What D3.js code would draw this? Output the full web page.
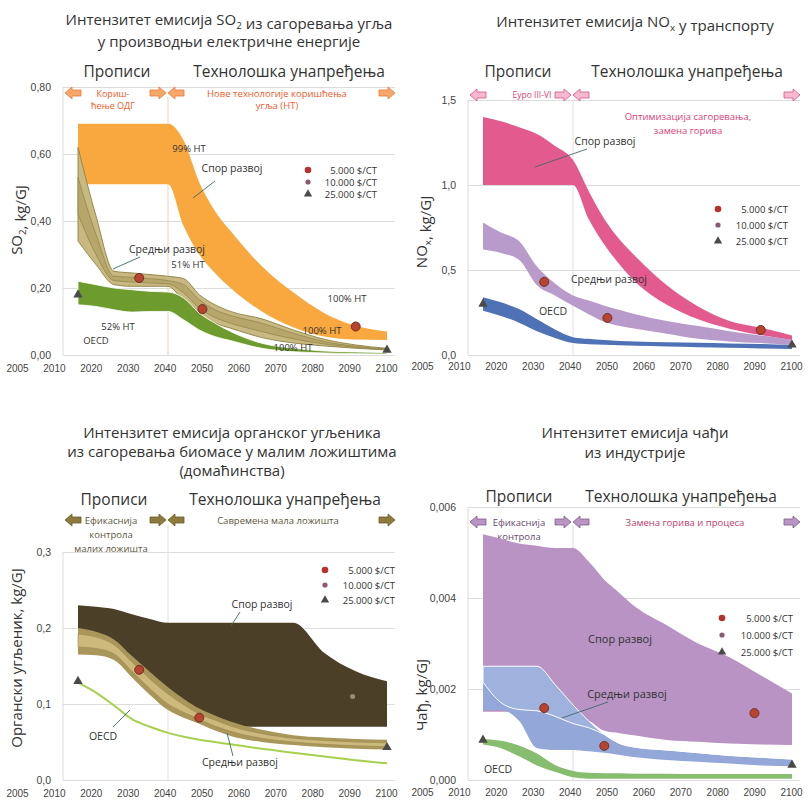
<!DOCTYPE html>
<html>
<head>
<meta charset="utf-8">
<title>Интензитет емисија</title>
<script src="https://d3js.org/d3.v7.min.js"></script>
<style>
  body { margin: 0; background: #fff; }
  svg { font-family: "Open Sans", "Noto Sans", sans-serif; }
  .grid line { stroke: #dcdcdc; }
  .grid text { fill: #444; font-size: 10.5px; }
  .xl text { fill: #444; font-size: 10px; }
  .lbl { fill: #333; }
</style>
</head>
<body>
<script>
// common year grid for all bands
var years = [2005, 2010, 2015, 2020, 2025, 2030, 2035, 2040, 2045, 2050, 2060, 2070, 2080, 2090, 2100];
var tickLabels = ['2005', '2010', '2020', '2030', '2040', '2050', '2060', '2070', '2080', '2090', '2100'];
var legendLabels = ['5.000 $/CT', '10.000 $/CT', '25.000 $/CT'];

// SO2, kg/GJ
var so2SlowHi = [.69, .69, .69, .69, .69, .69, .64, .515, .43, .37, .265, .187, .125, .087, .07];
var so2SlowLo = [.51, .51, .51, .51, .51, .51, .385, .30, .245, .20, .13, .083, .055, .046, .045];
var so2MedHi = [.62, .415, .25, .245, .24, .235, .228, .18, .15, .13, .108, .075, .047, .03, .02];
var so2MedLo = [.34, .27, .21, .205, .205, .205, .16, .118, .095, .08, .052, .036, .027, .02, .015];
var so2MedInHi = [.53, .36, .235, .232, .228, .222, .21, .165, .135, .118, .095, .065, .04, .026, .018];
var so2MedInLo = [.42, .30, .222, .218, .215, .212, .185, .14, .112, .095, .07, .048, .033, .023, .016];
var so2OecdHi = [.22, .21, .20, .195, .19, .188, .17, .125, .095, .07, .035, .02, .012, .009, .007];
var so2OecdLo = [.15, .145, .135, .128, .13, .13, .105, .075, .055, .043, .02, .01, .006, .004, .003];
var so2Dots = [[2022, .23], [2041, .137], [2090, .085]];
var so2Tri = [[2005, .18], [2100, .015]];

// NOx, kg/GJ
var noxSlowHi = [1.40, 1.375, 1.34, 1.30, 1.23, 1.147, .965, .80, .676, .58, .41, .285, .20, .16, .115];
var noxSlowLo = [1.0, 1.0, 1.0, 1.0, 1.0, 1.0, .80, .65, .53, .43, .295, .21, .155, .117, .088];
var noxMedHi = [.78, .72, .67, .52, .42, .35, .32, .29, .265, .24, .20, .17, .14, .115, .09];
var noxMedLo = [.62, .60, .56, .41, .35, .29, .24, .195, .17, .155, .125, .095, .08, .07, .06];
var noxOecdHi = [.34, .31, .27, .21, .15, .105, .095, .088, .083, .08, .075, .072, .068, .065, .06];
var noxOecdLo = [.26, .23, .19, .14, .10, .07, .063, .06, .057, .054, .05, .046, .042, .038, .035];
var noxDots = [[2022, .43], [2041, .218], [2090, .147]];
var noxTri = [[2005, .30], [2100, .06]];

// organic carbon, kg/GJ
var ocSlowHi = [.23, .228, .225, .218, .212, .207, .207, .207, .207, .207, .207, .207, .167, .143, .13];
var ocSlowLo = [.19, .185, .175, .15, .13, .11, .095, .085, .075, .07, .07, .07, .07, .07, .07];
var ocMedHi = [.20, .195, .185, .163, .142, .122, .107, .094, .085, .077, .066, .059, .056, .054, .053];
var ocMedLo = [.165, .164, .158, .135, .112, .092, .082, .074, .065, .058, .05, .046, .043, .041, .04];
var ocMedInHi = [.192, .188, .178, .155, .133, .113, .099, .087, .079, .071, .061, .055, .052, .05, .049];
var ocMedInLo = [.175, .173, .166, .143, .12, .10, .089, .08, .071, .064, .055, .05, .047, .045, .044];
var ocOecd = [.128, .115, .098, .08, .07, .062, .057, .053, .05, .047, .041, .036, .031, .026, .022];
var ocDots = [[2022, .145], [2040, .082]];
var ocMid = [[2089, .11]];
var ocTri = [[2005, .13], [2100, .043]];

// soot, kg/GJ
var sootSlowHi = [.0054, .0053, .0052, .00515, .0051, .0051, .0048, .0044, .0041, .0038, .0034, .003, .0027, .0023, .0019];
var sootSlowLo = [.0015, .0015, .0015, .0015, .0014, .0014, .0013, .00108, .00103, .00098, .00088, .00084, .0008, .00078, .00077];
var sootMedHi = [.0025, .0025, .0025, .0025, .0021, .00165, .0013, .001, .0008, .00072, .00066, .0006, .00054, .0005, .00046];
var sootMedLo = [.00154, .00154, .0013, .0007, .00066, .00066, .00063, .0006, .00055, .0005, .00044, .0004, .00036, .00032, .0003];
var sootMedInHi = [.0025, .0025, .0025, .0025, .0021, .00165, .0013, .001, .0008, .00072, .00066, .0006, .00054, .0005, .00046];
var sootMedInLo = [.00215, .0017, .00155, .00152, .0014, .00124, .00115, .001, .0008, .00072, .00066, .0006, .00054, .0005, .00046];
var sootOecdHi = [.0009, .00086, .00076, .00058, .00033, .0002, .00016, .00015, .00015, .00014, .00014, .00013, .00013, .00013, .00013];
var sootOecdLo = [.00078, .0007, .00052, .00032, .00018, .00006, .00003, .00003, .00003, .00003, .00003, .00003, .00003, .00003, .00003];
var sootDots = [[2022, .00158], [2040, .00075], [2088, .00147]];
var sootTri = [[2005, .00088], [2100, .00033]];

var svg = d3.select('body').append('svg').attr('width', 810).attr('height', 800);

function comma(n) {
  var f = d3.format('.' + n + 'f');
  return function(v) { return f(v).replace('.', ','); };
}

// text with optional subscript parts: strings or {sub: '2'}
function rich(sel, parts, size) {
  parts.forEach(function(p) {
    if (typeof p === 'string') sel.append('tspan').text(p);
    else {
      sel.append('tspan').attr('font-size', size * 0.65).attr('dy', size * 0.25).text(p.sub);
      sel.append('tspan').attr('dy', -size * 0.25).text('');
    }
  });
  return sel;
}

function lines(g, x, ys, strs, size, color) {
  strs.forEach(function(s, i) {
    g.append('text').attr('x', x).attr('y', ys[i]).attr('font-size', size)
      .attr('fill', color).attr('text-anchor', 'middle').text(s);
  });
}

function arrow(g, cx, cy, dir, fill, stroke) {
  var p = d3.path();
  p.moveTo(cx + dir * 8, cy);
  p.lineTo(cx + dir * 1, cy - 6);
  p.lineTo(cx + dir * 1, cy - 3);
  p.lineTo(cx - dir * 8, cy - 3);
  p.lineTo(cx - dir * 8, cy + 3);
  p.lineTo(cx + dir * 1, cy + 3);
  p.lineTo(cx + dir * 1, cy + 6);
  p.closePath();
  g.append('path').attr('d', p.toString()).attr('fill', fill).attr('stroke', stroke).attr('stroke-width', 0.8);
}

function frame(o) {
  var g = svg.append('g').attr('transform', 'translate(' + o.dx + ',' + o.dy + ')');
  var x = d3.scaleLinear().domain([2005, 2030, 2100]).range([78, 168, 387]);
  var y = d3.scaleLinear().domain([0, o.yMax]).range([o.bottom, o.top]);
  var xl = d3.scalePoint().domain(tickLabels).range([17, 386]);

  g.append('g').attr('class', 'grid').attr('transform', 'translate(63,0)')
    .call(d3.axisLeft(y).tickValues(o.ticks).tickFormat(o.fmt).tickSize(-332).tickPadding(12))
    .call(function(s) { s.select('.domain').remove(); });
  g.append('line').attr('x1', 63).attr('x2', 63).attr('y1', y(o.yMax)).attr('y2', y(0)).attr('stroke', '#dcdcdc');
  g.append('line').attr('x1', x(2030)).attr('x2', x(2030)).attr('y1', o.divTop).attr('y2', y(0))
    .attr('stroke', o.divColor);

  g.append('g').attr('class', 'xl').attr('transform', 'translate(0,' + o.xLabY + ')')
    .call(d3.axisBottom(xl).tickSize(0).tickPadding(0))
    .call(function(s) { s.select('.domain').remove(); });

  o.titles.forEach(function(t) {
    var el = g.append('text').attr('x', o.titleX).attr('y', t[0]).attr('font-size', 15)
      .attr('fill', '#333').attr('text-anchor', 'middle');
    rich(el, t[1], 15);
  });
  lines(g, o.headL, [o.headY], ['Прописи'], 15.5, '#333');
  lines(g, o.headR, [o.headY], ['Технолошка унапређења'], 15.5, '#333');

  arrow(g, x(2005) - 5, o.arrowY, -1, o.arrowFill, o.arrowStroke);
  arrow(g, x(2030) - 10, o.arrowY, 1, o.arrowFill, o.arrowStroke);
  arrow(g, x(2030) + 8, o.arrowY, -1, o.arrowFill, o.arrowStroke);
  arrow(g, x(2100), o.arrowY, 1, o.arrowFill, o.arrowStroke);

  var yt = g.append('text').attr('transform', 'translate(' + o.yTitleX + ',' + o.yTitleY + ') rotate(-90)')
    .attr('text-anchor', 'middle').attr('font-size', 15).attr('fill', '#333');
  rich(yt, o.yTitle, 15);
  return { g: g, x: x, y: y };
}

function band(f, hi, lo, fill, stroke, sw, op) {
  var area = d3.area()
    .x(function(d, i) { return f.x(years[i]); })
    .y0(function(d, i) { return f.y(lo[i]); })
    .y1(function(d) { return f.y(d); })
    .curve(d3.curveMonotoneX);
  f.g.append('path').datum(hi).attr('d', area).attr('fill', fill)
    .attr('fill-opacity', op || 1)
    .attr('stroke', stroke || 'none').attr('stroke-width', sw || 0);
}

function curve(f, vals, color, w) {
  var line = d3.line()
    .x(function(d, i) { return f.x(years[i]); })
    .y(function(d) { return f.y(d); })
    .curve(d3.curveMonotoneX);
  f.g.append('path').datum(vals).attr('d', line).attr('fill', 'none').attr('stroke', color).attr('stroke-width', w);
}

function dots(f, pts) {
  f.g.selectAll(null).data(pts).enter().append('circle')
    .attr('cx', function(d) { return f.x(d[0]); })
    .attr('cy', function(d) { return f.y(d[1]); })
    .attr('r', 4.5).attr('fill', '#b8432f').attr('stroke', '#6e3326').attr('stroke-width', 1);
}

function mids(f, pts) {
  f.g.selectAll(null).data(pts).enter().append('circle')
    .attr('cx', function(d) { return f.x(d[0]); })
    .attr('cy', function(d) { return f.y(d[1]); })
    .attr('r', 2.5).attr('fill', '#a08a7a');
}

var triSym = d3.symbol(d3.symbolTriangle, 38);
function tris(f, pts) {
  f.g.selectAll(null).data(pts).enter().append('path')
    .attr('d', triSym)
    .attr('transform', function(d) { return 'translate(' + f.x(d[0]) + ',' + f.y(d[1]) + ')'; })
    .attr('fill', '#4a4a4a');
}

function legend(f, mx, ys, tx) {
  var g = f.g;
  g.append('circle').attr('cx', mx).attr('cy', ys[0]).attr('r', 3.3).attr('fill', '#b8312f');
  g.append('circle').attr('cx', mx).attr('cy', ys[1]).attr('r', 2.6).attr('fill', '#8a5a72');
  g.append('path').attr('d', d3.symbol(d3.symbolTriangle, 30)).attr('transform', 'translate(' + mx + ',' + ys[2] + ')').attr('fill', '#4a4a4a');
  legendLabels.forEach(function(s, i) {
    g.append('text').attr('x', tx).attr('y', ys[i] + 3.5).attr('text-anchor', 'end')
      .attr('font-size', 9.5).attr('fill', '#333').text(s);
  });
}

function lbl(f, x, y, s, size) {
  f.g.append('text').attr('class', 'lbl').attr('x', x).attr('y', y).attr('text-anchor', 'middle')
    .attr('font-size', size || 10.5).text(s);
}
function leader(f, x1, y1, x2, y2) {
  f.g.append('line').attr('x1', x1).attr('y1', y1).attr('x2', x2).attr('y2', y2)
    .attr('stroke', '#3f6868').attr('stroke-width', 0.9);
}

// ---------- panel 1: SO2 ----------
var p1 = frame({
  dx: 0, dy: 0, yMax: .8, bottom: 355, top: 87, ticks: [0, .2, .4, .6, .8], fmt: comma(2),
  xLabY: 365, divTop: 97, divColor: '#f5cfb3',
  titleX: 229,
  titles: [[25, ['Интензитет емисија SO', { sub: '2' }, ' из сагоревања угља']], [47, ['у производњи електричне енергије']]],
  headY: 77, headL: 117, headR: 289,
  arrowY: 93, arrowFill: '#f7a869', arrowStroke: '#e9783c',
  yTitle: ['SO', { sub: '2' }, ', kg/GJ'], yTitleX: 22, yTitleY: 220
});
lines(p1.g, 113, [97, 109], ['Кориш-', 'ћење ОДГ'], 9, '#ef5b2b');
lines(p1.g, 277, [97, 109], ['Нове технологије коришћења', 'угља (НТ)'], 9.5, '#ef5b2b');
band(p1, so2SlowHi, so2SlowLo, '#f8a83e');
band(p1, so2MedHi, so2MedLo, '#c8b881', '#8e8244', 0.9);
band(p1, so2MedInHi, so2MedInLo, '#b6a66c', '#8e8244', 0.7);
band(p1, so2OecdHi, so2OecdLo, '#6e9b2e', '#ffffff', 0.8);
dots(p1, so2Dots);
tris(p1, so2Tri);
legend(p1, 308, [170, 182, 194], 377);
lbl(p1, 189, 152, '99% НТ', 9.5);
lbl(p1, 232, 172, 'Спор развој');
leader(p1, 215, 181, 193, 198);
lbl(p1, 167, 253, 'Средњи развој');
leader(p1, 140, 257, 113, 269);
lbl(p1, 188, 268, '51% НТ', 9.5);
lbl(p1, 347, 302, '100% НТ', 9.5);
lbl(p1, 322, 334, '100% НТ', 9.5);
lbl(p1, 293, 351, '100% НТ', 9.5);
lbl(p1, 118, 330, '52% НТ', 9.5);
lbl(p1, 96, 344, 'OECD', 9.5);

// ---------- panel 2: NOx ----------
var p2 = frame({
  dx: 405, dy: 0, yMax: 1.5, bottom: 355, top: 100, ticks: [0, .5, 1, 1.5], fmt: comma(1),
  xLabY: 363, divTop: 100, divColor: '#e6dde2',
  titleX: 230,
  titles: [[27, ['Интензитет емисија NO', { sub: 'x' }, ' у транспорту']]],
  headY: 77, headL: 113, headR: 282,
  arrowY: 95, arrowFill: '#f6b9d0', arrowStroke: '#d9508c',
  yTitle: ['NO', { sub: 'x' }, ', kg/GJ'], yTitleX: 22, yTitleY: 232
});
lines(p2.g, 127, [98], ['Еуро III-VI'], 8.5, '#e0407a');
lines(p2.g, 283, [120, 134], ['Оптимизација сагоревања,', 'замена горива'], 9.5, '#e0407a');
band(p2, noxSlowHi, noxSlowLo, '#e35a8f');
band(p2, noxMedHi, noxMedLo, '#b89acb');
band(p2, noxOecdHi, noxOecdLo, '#4f72b6');
dots(p2, noxDots);
tris(p2, noxTri);
legend(p2, 313, [209, 225, 241], 383);
lbl(p2, 200, 145, 'Спор развој');
leader(p2, 182, 149, 130, 167);
lbl(p2, 204, 283, 'Средњи развој');
lbl(p2, 148, 315, 'OECD');

// ---------- panel 3: organic carbon ----------
var p3 = frame({
  dx: 0, dy: 400, yMax: .3, bottom: 380, top: 152, ticks: [0, .1, .2, .3], fmt: comma(1),
  xLabY: 390, divTop: 125, divColor: '#e2e0d6',
  titleX: 232,
  titles: [[38, ['Интензитет емисија органског угљеника']], [57, ['из сагоревања биомасе у малим ложиштима']], [76, ['(домаћинства)']]],
  headY: 105, headL: 114, headR: 285,
  arrowY: 120, arrowFill: '#8c7b3c', arrowStroke: '#6a5a2a',
  yTitle: ['Органски угљеник, kg/GJ'], yTitleX: 22, yTitleY: 258
});
lines(p3.g, 111, [124, 138, 152], ['Ефикаснија', 'контрола', 'малих ложишта'], 9.5, '#5e5640');
lines(p3.g, 278, [124], ['Савремена мала ложишта'], 9.5, '#5e5640');
band(p3, ocSlowHi, ocSlowLo, '#4b3f27');
band(p3, ocMedHi, ocMedLo, '#a8965a');
band(p3, ocMedInHi, ocMedInLo, '#cdb97c', '#9c8a4e', 0.6);
curve(p3, ocOecd, '#a6d04e', 2);
dots(p3, ocDots);
mids(p3, ocMid);
tris(p3, ocTri);
legend(p3, 325, [170, 185, 200], 395);
lbl(p3, 262, 208, 'Спор развој');
leader(p3, 240, 212, 231, 226);
lbl(p3, 103, 340, 'OECD');
leader(p3, 113, 327, 130, 310);
lbl(p3, 240, 366, 'Средњи развој');
leader(p3, 233, 356, 227, 333);

// ---------- panel 4: soot ----------
var p4 = frame({
  dx: 405, dy: 400, yMax: .006, bottom: 380, top: 107, ticks: [0, .002, .004, .006], fmt: comma(3),
  xLabY: 389, divTop: 125, divColor: '#dcd6de',
  titleX: 230,
  titles: [[38, ['Интензитет емисија чађи']], [58, ['из индустрије']]],
  headY: 102, headL: 114, headR: 276,
  arrowY: 122, arrowFill: '#b995c4', arrowStroke: '#7d5a88',
  yTitle: ['Чађ, kg/GJ'], yTitleX: 22, yTitleY: 295
});
lines(p4.g, 114, [126, 140, 154], ['Ефикаснија', 'контрола', 'емисија'], 9.5, '#6a4a70');
lines(p4.g, 280, [126], ['Замена горива и процеса'], 9.5, '#c03a70');
band(p4, sootSlowHi, sootSlowLo, '#b893c4');
band(p4, sootMedHi, sootMedLo, '#93a7d9');
band(p4, sootMedInHi, sootMedInLo, '#9fb2de', '#ffffff', 1);
band(p4, sootOecdHi, sootOecdLo, '#86bd6e');
dots(p4, sootDots);
tris(p4, sootTri);
legend(p4, 317, [218, 235, 252], 388);
lbl(p4, 215, 243, 'Спор развој', 11);
lbl(p4, 222, 298, 'Средњи развој', 11);
leader(p4, 203, 302, 157, 318);
lbl(p4, 93, 373, 'OECD', 10.5);
</script>
</body>
</html>
